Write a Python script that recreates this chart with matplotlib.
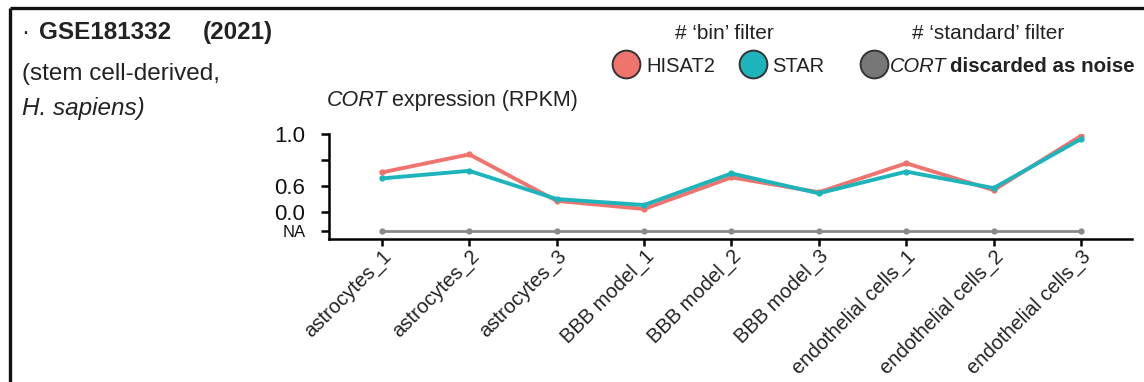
import matplotlib
matplotlib.use("Agg")
import matplotlib.pyplot as plt
from matplotlib.lines import Line2D

plt.rcParams['font.family'] = ['Liberation Sans', 'DejaVu Sans']

# ---- data (y in the chart's own axis units: 0.0 -> 0, 0.6 -> 1, 1.0 -> 3, NA -> -0.72)
categories = ["astrocytes_1", "astrocytes_2", "astrocytes_3",
              "BBB model_1", "BBB model_2", "BBB model_3",
              "endothelial cells_1", "endothelial cells_2", "endothelial cells_3"]
hisat2 = [1.53, 2.22, 0.44, 0.13, 1.34, 0.77, 1.88, 0.85, 2.93]
star = [1.30, 1.59, 0.51, 0.28, 1.49, 0.73, 1.56, 0.93, 2.81]
standard_na = [-0.72] * 9
ytick_pos = [-0.72, 0, 1, 2, 3]
ytick_labels = ["NA", "0.0", "0.6", "", "1.0"]

W, H, DPI = 1144, 382, 100
RED = "#F0746E"
TEAL = "#1DB5BB"
GRAY = "#8A8A8A"
TXT = "#222222"

fig = plt.figure(figsize=(W / DPI, H / DPI), dpi=DPI)
renderer = fig.canvas.get_renderer()


def fx(px):
    return px / W


def fy(py):
    return 1 - py / H


def runs(x_px, y_px, parts, gap=5):
    """Place text runs one after another on a shared baseline."""
    cur = x_px
    for txt, kw in parts:
        t = fig.text(fx(cur), fy(y_px), txt, va="baseline", color=TXT, **kw)
        bb = t.get_window_extent(renderer=renderer)
        cur += bb.width + gap


ax = fig.add_axes([fx(329), fy(239), fx(1132) - fx(329), fy(134) - fy(239)])
x = list(range(len(categories)))
ax.plot(x, standard_na, color=GRAY, lw=2.0, marker="o", ms=3.5, zorder=2)
ax.plot(x, hisat2, color=RED, lw=2.8, marker="o", ms=3.5, zorder=3)
ax.plot(x, star, color=TEAL, lw=2.8, marker="o", ms=3.5, zorder=4)

ax.set_xlim(-0.606, 8.584)
ax.set_ylim(-1.02, 3.0)
for s in ["top", "right"]:
    ax.spines[s].set_visible(False)
for s in ["left", "bottom"]:
    ax.spines[s].set_linewidth(1.8)
    ax.spines[s].set_color("black")
ax.set_xticks(x)
ax.set_xticklabels(categories, rotation=45, ha="right", va="top",
                   rotation_mode="anchor", fontsize=14.5, color=TXT)
ax.set_yticks(ytick_pos)
ax.set_yticklabels(ytick_labels, fontsize=16, color="#111111")
ax.get_yticklabels()[0].set_fontsize(12)
ax.tick_params(axis="y", length=6, width=1.8, color="black", pad=11)
ax.tick_params(axis="x", length=5, width=1.8, color="black", pad=0.5)

# ---- frame
fig.add_artist(Line2D([fx(10), fx(10)], [fy(8), 0], color="#111111", lw=2.4, solid_capstyle="butt"))
fig.add_artist(Line2D([fx(10), 1], [fy(8), fy(8)], color="#111111", lw=2.4, solid_capstyle="butt"))

# ---- title block
fig.text(fx(21), fy(39), "·", fontsize=17.5, color=TXT, va="baseline")
fig.text(fx(39), fy(39), "GSE181332", fontsize=17.5, fontweight="bold", color=TXT, va="baseline")
fig.text(fx(203), fy(39), "(2021)", fontsize=17.5, fontweight="bold", color=TXT, va="baseline")
fig.text(fx(22), fy(80), "(stem cell-derived,", fontsize=17.5, color=TXT, va="baseline")
fig.text(fx(22), fy(115), "H. sapiens)", fontsize=17.5, style="italic", color=TXT, va="baseline")

# ---- y-axis title
runs(327, 106, [("CORT", dict(fontsize=15.5, style="italic")),
                ("expression (RPKM)", dict(fontsize=15.5))], gap=4)

# ---- legend
fig.text(fx(724), fy(39), "# \u2018bin\u2019 filter", fontsize=15, color=TXT, ha="center", va="baseline")
fig.text(fx(988), fy(39), "# \u2018standard\u2019 filter", fontsize=15, color=TXT, ha="center", va="baseline")
for cx, col in [(626, RED), (753, TEAL), (874, "#777777")]:
    fig.add_artist(Line2D([fx(cx)], [fy(64)], marker="o", ms=20, mfc=col, mec="#333333", mew=1.4, ls="none"))
runs(646, 72, [("HISAT2", dict(fontsize=14.5))])
runs(772, 72, [("STAR", dict(fontsize=14.5))])
runs(890, 72, [("CORT", dict(fontsize=14.5, style="italic")),
               ("discarded as noise", dict(fontsize=14.8, fontweight="bold"))], gap=4)

fig.savefig("out.png", dpi=DPI)
